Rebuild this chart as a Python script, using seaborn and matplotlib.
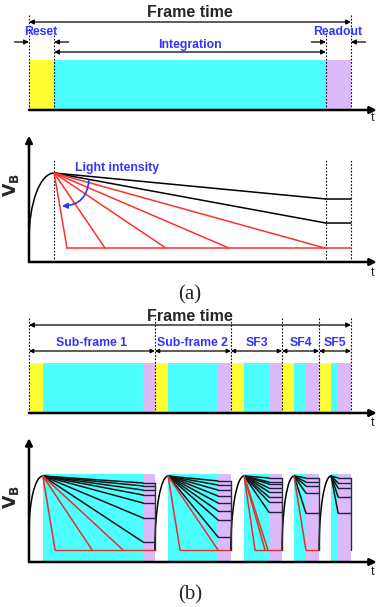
import numpy as np
import pandas as pd
import matplotlib
matplotlib.use("Agg")
import matplotlib.pyplot as plt
from matplotlib.patches import Arc, Rectangle
import seaborn as sns

sns.set_theme(style="white")
plt.rcParams["font.family"] = ["Liberation Sans", "DejaVu Sans"]

# ---- data (time in fractions of one frame, voltage relative to reset level) ----
# (a) conventional single frame
a_edges = [0.0, 0.078, 0.922, 1.0]          # reset | integration | readout
a_black_end = [0.708, 0.438]                 # weak light, no saturation
a_red_end = [0.118, 0.236, 0.425, 0.621, 0.919]   # time when pixel saturates
a_floor = 0.157
a_reset_start = 0.25

# (b) five sub-frames
sf_names = ["Sub-frame 1", "Sub-frame 2", "SF3", "SF4", "SF5"]
sf_edges = [0.0, 0.391, 0.627, 0.786, 0.901, 1.0]
sf_cyan = [0.043, 0.432, 0.668, 0.823, 0.938]    # integration start
sf_lilac = [0.354, 0.587, 0.745, 0.860, 0.960]   # readout start
sf_black = [
    [0.919, 0.884, 0.837, 0.779, 0.686, 0.512, 0.233],
    [0.942, 0.895, 0.837, 0.767, 0.686, 0.593, 0.488, 0.291],
    [0.977, 0.930, 0.907, 0.860, 0.814, 0.756, 0.698, 0.581],
    [0.977, 0.930, 0.884, 0.802, 0.570],
    [0.977, 0.919, 0.860, 0.756, 0.570],
]
sf_red = [[0.081, 0.196, 0.292], [0.469, 0.587], [0.702, 0.733, 0.742], [0.860], []]
b_floor = 0.14
b_reset_start = [0.34, 0.14, 0.14, 0.14, 0.14]

YELLOW = "#FFFF33"
CYAN = "#4DFFFF"
LILAC = "#DCB9F9"
BLUE = "#3333FF"
RED = "#FF3030"

W, H = 377, 607
X0, XS = 29, 322   # pixel of t=0 and pixels per frame

fig = plt.figure(figsize=(W / 100, H / 100), dpi=100)


def panel(top, bottom, zero, unit):
    ax = fig.add_axes([0, 1 - bottom / H, 1, (bottom - top) / H])
    ax.set_xlim(-X0 / XS, (W - X0) / XS)
    ax.set_ylim((zero - bottom) / unit, (zero - top) / unit)
    ax.axis("off")
    return ax


def harrow(ax, t1, t2, v, style="<|-|>", ms=7):
    ax.annotate("", xy=(t2, v), xytext=(t1, v),
                arrowprops=dict(arrowstyle=style, color="black", lw=0.9,
                                mutation_scale=ms, shrinkA=0, shrinkB=0))


def axis_arrow(ax, p1, p2):
    ax.annotate("", xy=p2, xytext=p1,
                arrowprops=dict(arrowstyle="-|>", color="black", lw=1.8,
                                mutation_scale=10, shrinkA=0, shrinkB=0))


def vline_dot(ax, t, top):
    ax.plot([t, t], [0, top], color="black", ls=(0, (1.5, 1.5)), lw=0.8)


def rays(ax, t0, ends, kind, data):
    # ray from reset level (t0, 1) to end point
    for i, (te, ve) in enumerate(ends):
        data.append(pd.DataFrame({"t": [t0, te], "v": [1.0, ve],
                                  "ray": f"{kind}{t0}{i}", "kind": kind}))


def draw_rays(ax, data, pal):
    df = pd.concat(data, ignore_index=True)
    sns.lineplot(data=df, x="t", y="v", units="ray", estimator=None, hue="kind",
                 palette=pal, legend=False, sort=False, lw=1.1, ax=ax)


LBL = dict(ha="center", va="center", fontsize=8.8, fontweight="bold", color=BLUE)

# ================= (a) timing =================
ax1 = panel(0, 125, 110, 50)
for (t1, t2), c in zip(zip(a_edges[:-1], a_edges[1:]), [YELLOW, CYAN, LILAC]):
    ax1.add_patch(Rectangle((t1, 0), t2 - t1, 1, color=c, lw=0))
for t in [a_edges[0], a_edges[-1]]:
    vline_dot(ax1, t, 1.9)
for t in [a_edges[1], a_edges[2]]:
    vline_dot(ax1, t, 1.55)
axis_arrow(ax1, (0, 0), (1.08, 0))
ax1.text(1.068, -0.16, "t", ha="center", va="center", fontsize=9)
harrow(ax1, a_edges[0], a_edges[-1], 1.76)
ax1.text(0.5, 1.95, "Frame time", ha="center", va="center", fontsize=11.5, fontweight="bold")
ax1.text(0.036, 1.56, "Reset", **LBL)
ax1.text(0.958, 1.56, "Readout", **LBL)
ax1.text(0.5, 1.3, "Integration", **LBL)
harrow(ax1, a_edges[1], a_edges[2], 1.16)
harrow(ax1, -0.045, a_edges[0], 1.36, "-|>")
harrow(ax1, a_edges[1] + 0.045, a_edges[1], 1.36, "-|>")
harrow(ax1, a_edges[2] - 0.045, a_edges[2], 1.36, "-|>")
harrow(ax1, a_edges[3] + 0.045, a_edges[3], 1.36, "-|>")

# ================= (a) V_B =================
ax2 = panel(125, 310, 262, 89)
axis_arrow(ax2, (0, 0), (0, 1.42))
axis_arrow(ax2, (0, 0), (1.08, 0))
ax2.text(1.068, -0.12, "t", ha="center", va="center", fontsize=9)
ax2.text(-0.055, 0.86, r"$\mathbf{V_B}$", ha="center", va="center", fontsize=12.5, rotation=90)
for t in a_edges[1:]:
    vline_dot(ax2, t, 1.15)
tp = a_edges[1]
ax2.add_patch(Arc((tp, a_reset_start), 2 * tp, 2 * (1 - a_reset_start),
                  theta1=90, theta2=180, color="black", lw=1.1))
segs = []
rays(ax2, tp, [(a_edges[2], v) for v in a_black_end], "black", segs)
rays(ax2, tp, [(t, a_floor) for t in a_red_end], "red", segs)
draw_rays(ax2, segs, {"black": "black", "red": RED})
for v in a_black_end:
    ax2.plot([a_edges[2], a_edges[3]], [v, v], color="black", lw=1.1)
ax2.plot([a_red_end[0], a_edges[3]], [a_floor, a_floor], color=RED, lw=1.1)
ax2.text(0.275, 1.06, "Light intensity", **LBL)
ax2.annotate("", xy=(0.102, 0.63), xytext=(0.186, 0.92),
             arrowprops=dict(arrowstyle="-|>", color=BLUE, lw=1.2, mutation_scale=8,
                             connectionstyle="arc3,rad=-0.45", shrinkA=0, shrinkB=0))
ax2.text(0.5, -0.37, "(a)", ha="center", va="center", fontsize=15, family="Liberation Serif")

# ================= (b) timing =================
ax3 = panel(310, 430, 413, 50)
for i in range(5):
    ax3.add_patch(Rectangle((sf_edges[i], 0), sf_cyan[i] - sf_edges[i], 1, color=YELLOW, lw=0))
    ax3.add_patch(Rectangle((sf_cyan[i], 0), sf_lilac[i] - sf_cyan[i], 1, color=CYAN, lw=0))
    ax3.add_patch(Rectangle((sf_lilac[i], 0), sf_edges[i + 1] - sf_lilac[i], 1, color=LILAC, lw=0))
    harrow(ax3, sf_edges[i], sf_edges[i + 1], 1.24, ms=6)
    ax3.text((sf_edges[i] + sf_edges[i + 1]) / 2, 1.41, sf_names[i], **LBL)
for t in sf_edges:
    vline_dot(ax3, t, 1.9)
axis_arrow(ax3, (0, 0), (1.08, 0))
ax3.text(1.068, -0.2, "t", ha="center", va="center", fontsize=9)
harrow(ax3, sf_edges[0], sf_edges[-1], 1.76)
ax3.text(0.5, 1.93, "Frame time", ha="center", va="center", fontsize=11.5, fontweight="bold")

# ================= (b) V_B =================
ax4 = panel(430, 607, 562, 86)
segs = []
for i in range(5):
    ax4.add_patch(Rectangle((sf_cyan[i], 0), sf_lilac[i] - sf_cyan[i], 1.02, color=CYAN, lw=0))
    ax4.add_patch(Rectangle((sf_lilac[i], 0), sf_edges[i + 1] - sf_lilac[i], 1.02, color=LILAC, lw=0))
    t0, tc = sf_edges[i], sf_cyan[i]
    v0 = b_reset_start[i]
    ax4.add_patch(Arc((tc, v0), 2 * (tc - t0), 2 * (1 - v0),
                      theta1=90, theta2=180, color="black", lw=1.1))
    rays(ax4, tc, [(sf_lilac[i], v) for v in sf_black[i]], "black", segs)
    rays(ax4, tc, [(t, b_floor) for t in sf_red[i]], "red", segs)
    for v in sf_black[i]:
        ax4.plot([sf_lilac[i], sf_edges[i + 1]], [v, v], color="#202040", lw=1.0)
    if sf_red[i]:
        ax4.plot([sf_red[i][0], sf_edges[i + 1]], [b_floor, b_floor], color="#E03030", lw=1.0)
    ax4.plot([sf_edges[i + 1], sf_edges[i + 1]], [b_floor, max(sf_black[i])],
             color="#303030", lw=1.0)
draw_rays(ax4, segs, {"black": "#151515", "red": "#E03030"})
axis_arrow(ax4, (0, 0), (0, 1.44))
axis_arrow(ax4, (0, 0), (1.08, 0))
ax4.text(1.068, -0.12, "t", ha="center", va="center", fontsize=9)
ax4.text(-0.055, 0.76, r"$\mathbf{V_B}$", ha="center", va="center", fontsize=12.5, rotation=90)
ax4.text(0.5, -0.38, "(b)", ha="center", va="center", fontsize=15, family="Liberation Serif")

fig.savefig("out.png", dpi=100, facecolor="white")
